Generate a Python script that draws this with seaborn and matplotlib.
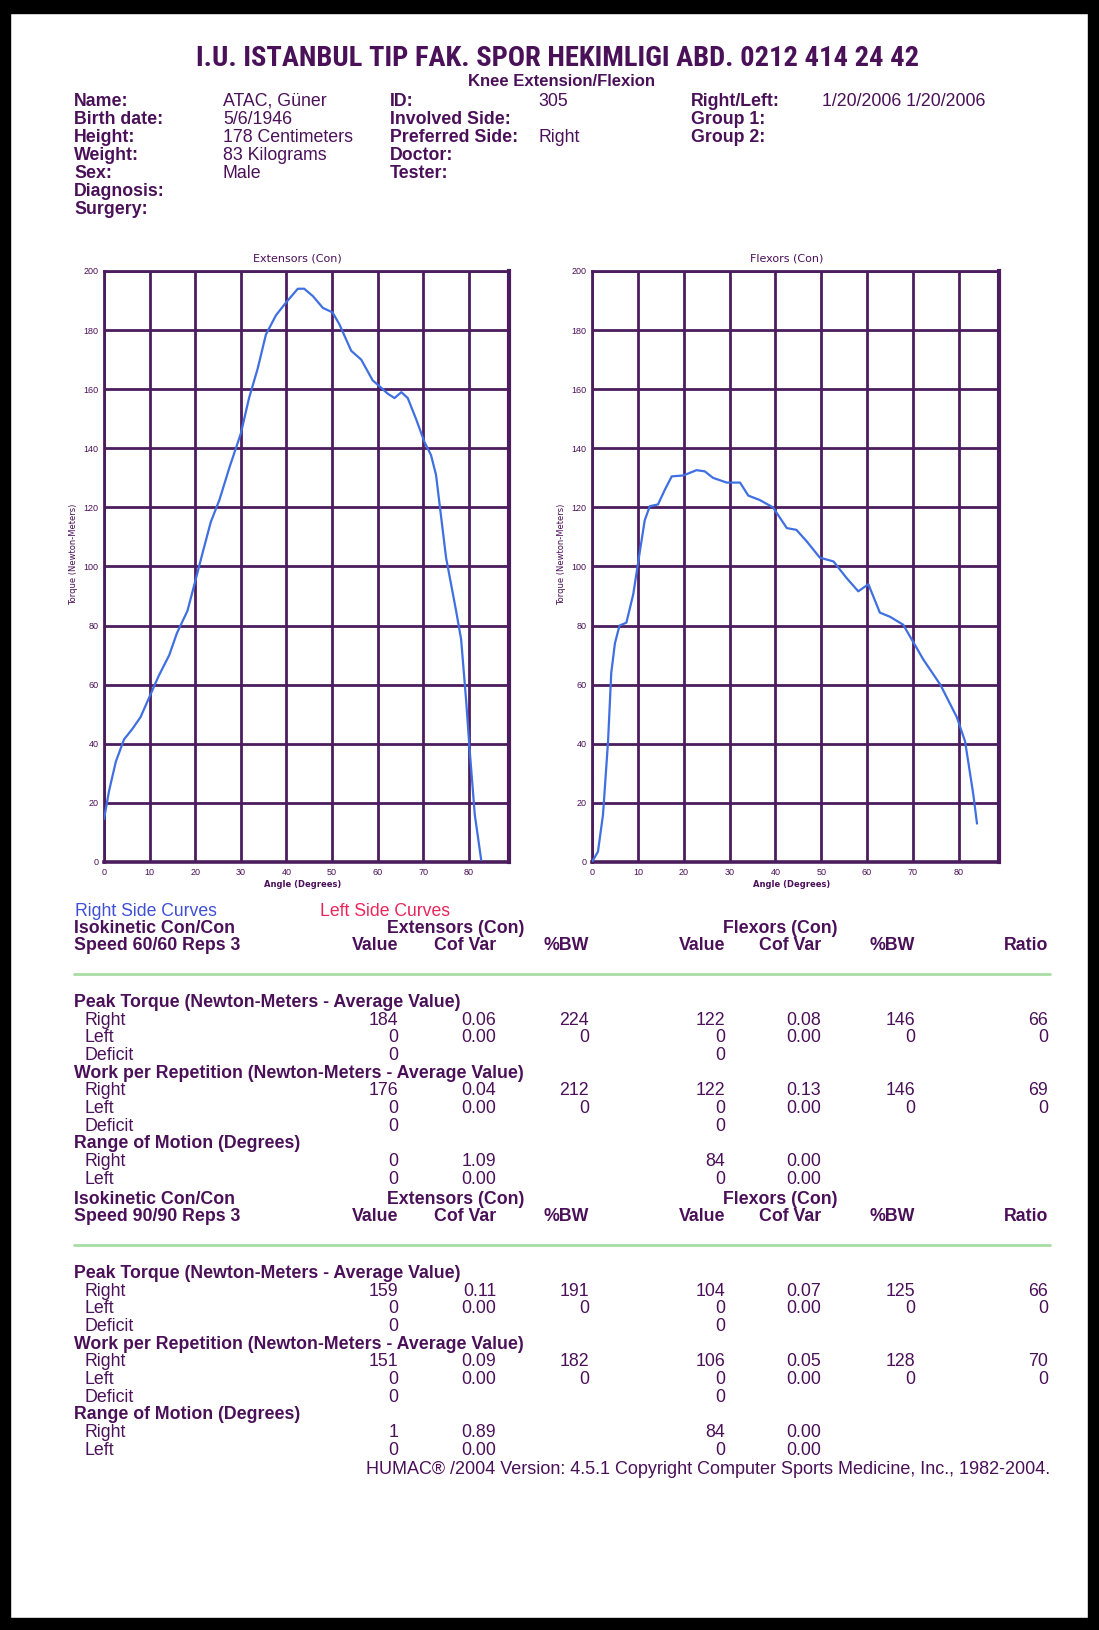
import os
import numpy as np
import pandas as pd
import matplotlib
matplotlib.use("Agg")
import matplotlib.pyplot as plt
import matplotlib.transforms as mtransforms
import seaborn as sns
from matplotlib import font_manager as fm
from matplotlib.ticker import MultipleLocator
from matplotlib.patches import Rectangle
from matplotlib.lines import Line2D

# ---------------- data ----------------
ext_angle = [0, 1.1, 2.6, 4.4, 6.2, 8, 10, 12, 14.3, 16, 18.3, 20, 21.6, 23.4, 25.3, 27.5, 30,
             31.8, 33.7, 35.5, 37.7, 40, 42.5, 43.9, 45.8, 48, 50.1, 51.6, 54.2, 56.4, 58.9,
             60.4, 62.2, 63.7, 65.2, 66.6, 68.4, 70.3, 71.7, 72.8, 75, 77.2, 78.3, 79.4, 80.1,
             81.3, 82.7]
ext_torque = [14.5, 24, 34, 41.5, 45, 49, 56, 63, 70, 77.5, 85, 95, 104.5, 115, 122.5, 133.5,
              145, 157, 167, 178.5, 185, 189.5, 194, 194, 191.5, 187.5, 186, 182, 173, 170,
              163, 161, 158.5, 157, 159, 157, 150, 142, 137.7, 131, 103, 85, 75.4, 54.7, 39.4,
              16, 0.7]
flex_angle = [0, 1.3, 2.4, 3.5, 4.2, 5, 6, 7.5, 9, 10.1, 11.5, 12.6, 14.4, 15.9, 17.4, 19.9,
              22.8, 24.6, 26.4, 29.4, 32.3, 34.1, 36.6, 39.5, 42.5, 44.6, 46.8, 49.7, 52.7,
              55.6, 58.1, 60.3, 62.8, 65, 67.9, 72.3, 76, 79.6, 81.4, 83.2, 84]
flex_torque = [0, 3.5, 16, 40.8, 64, 74, 80, 81, 90.6, 101.7, 115.6, 120.4, 121, 126, 130.5,
               130.8, 132.6, 132.2, 130, 128.4, 128.4, 124, 122.5, 120, 113, 112.4, 108.6, 103,
               101.7, 96, 91.6, 94, 84.4, 83, 80.3, 68.5, 60, 49, 40.8, 22.8, 13]

x_ticks = [0, 10, 20, 30, 40, 50, 60, 70, 80]
y_ticks = [0, 20, 40, 60, 80, 100, 120, 140, 160, 180, 200]

title = "I.U. ISTANBUL TIP FAK. SPOR HEKIMLIGI ABD. 0212 414 24 42"
subtitle = "Knee Extension/Flexion"
info_col1_labels = ["Name:", "Birth date:", "Height:", "Weight:", "Sex:", "Diagnosis:", "Surgery:"]
info_col1_values = ["ATAC, Güner", "5/6/1946", "178 Centimeters", "83 Kilograms", "Male", "", ""]
info_col2_labels = ["ID:", "Involved Side:", "Preferred Side:", "Doctor:", "Tester:"]
info_col2_values = ["305", "", "Right", "", ""]
info_col3_labels = ["Right/Left:", "Group 1:", "Group 2:"]
info_col3_values = ["1/20/2006 1/20/2006", "", ""]

col_headers = ["Value", "Cof Var", "%BW", "Value", "Cof Var", "%BW", "Ratio"]
speed_labels = ["Speed 60/60 Reps 3", "Speed 90/90 Reps 3"]
section_titles = ["Peak Torque (Newton-Meters - Average Value)",
                  "Work per Repetition (Newton-Meters - Average Value)",
                  "Range of Motion (Degrees)"]
block1 = [
    [("Right", ["184", "0.06", "224", "122", "0.08", "146", "66"]),
     ("Left", ["0", "0.00", "0", "0", "0.00", "0", "0"]),
     ("Deficit", ["0", "", "", "0", "", "", ""])],
    [("Right", ["176", "0.04", "212", "122", "0.13", "146", "69"]),
     ("Left", ["0", "0.00", "0", "0", "0.00", "0", "0"]),
     ("Deficit", ["0", "", "", "0", "", "", ""])],
    [("Right", ["0", "1.09", "", "84", "0.00", "", ""]),
     ("Left", ["0", "0.00", "", "0", "0.00", "", ""])],
]
block2 = [
    [("Right", ["159", "0.11", "191", "104", "0.07", "125", "66"]),
     ("Left", ["0", "0.00", "0", "0", "0.00", "0", "0"]),
     ("Deficit", ["0", "", "", "0", "", "", ""])],
    [("Right", ["151", "0.09", "182", "106", "0.05", "128", "70"]),
     ("Left", ["0", "0.00", "0", "0", "0.00", "0", "0"]),
     ("Deficit", ["0", "", "", "0", "", "", ""])],
    [("Right", ["1", "0.89", "", "84", "0.00", "", ""]),
     ("Left", ["0", "0.00", "", "0", "0.00", "", ""])],
]
footer = "HUMAC\u00ae /2004 Version: 4.5.1 Copyright Computer Sports Medicine, Inc., 1982-2004."

# ---------------- fonts ----------------
sns.set_style("white")
plt.rcParams["font.family"] = ["Liberation Sans", "DejaVu Sans"]

all_files = sorted({f.fname for f in fm.fontManager.ttflist})
COND_BOLD = None
for f in all_files:
    if os.path.basename(f).lower() == "robotocondensed-bold.ttf":
        COND_BOLD = f
        break

W, H = 1099, 1630
TXT = "#4a1058"
GRID = "#4b1d5e"
BLUE = "#3f6fe0"

fig = plt.figure(figsize=(W / 100, H / 100), dpi=100)
fig.patch.set_facecolor("white")


def T(x, y, s, bold=False, size=12.8, **kw):
    kw.setdefault("color", TXT)
    kw.setdefault("va", "center")
    fp = fm.FontProperties(family=["Liberation Sans", "DejaVu Sans"], size=size,
                           weight="bold" if bold else "normal")
    return fig.text(x / W, 1 - y / H, s, fontproperties=fp, **kw)


# border frame
for (x0, y0, w, h) in [(0, 0, 10, H), (0, 0, W, 13), (W - 11, 0, 11, H), (0, H - 12, W, 12)]:
    fig.add_artist(Rectangle((x0 / W, 1 - (y0 + h) / H), w / W, h / H,
                             transform=fig.transFigure, color="black", zorder=10))

# header
if COND_BOLD:
    fig.text(557 / W, 1 - 59 / H, title,
             fontproperties=fm.FontProperties(fname=COND_BOLD, size=20.5),
             color=TXT, ha="center", va="center")
else:
    T(557, 59, title, bold=True, size=17.5, ha="center")
T(561, 82, subtitle, bold=True, size=12, ha="center")
row_y = [101, 119, 137, 155, 173, 191, 210]
for i, (lab, val) in enumerate(zip(info_col1_labels, info_col1_values)):
    T(74, row_y[i], lab, bold=True, size=12.8)
    T(223, row_y[i], val, size=12.8)
for i, (lab, val) in enumerate(zip(info_col2_labels, info_col2_values)):
    T(390, row_y[i], lab, bold=True, size=12.8)
    T(538, row_y[i], val, size=12.8)
for i, (lab, val) in enumerate(zip(info_col3_labels, info_col3_values)):
    T(691, row_y[i], lab, bold=True, size=12.8)
    T(822, row_y[i], val, size=12.8)

# ---------------- charts ----------------
ax_specs = [(104, 509, "Extensors (Con)", ext_angle, ext_torque),
            (592, 999, "Flexors (Con)", flex_angle, flex_torque)]
top, bot = 271, 862
for (x0, x1, ttl, xa, ya) in ax_specs:
    ax = fig.add_axes([x0 / W, 1 - bot / H, (x1 - x0) / W, (bot - top) / H])
    df = pd.DataFrame({"Angle": xa, "Torque": ya})
    sns.lineplot(data=df, x="Angle", y="Torque", ax=ax, sort=False, estimator=None,
                 color=BLUE, lw=1.6, zorder=5)
    ax.set_xlim(0, 88.8)
    ax.set_ylim(0, 200)
    ax.set_xticks(x_ticks)
    ax.set_yticks(y_ticks)
    ax.xaxis.set_minor_locator(MultipleLocator(2))
    ax.yaxis.set_minor_locator(MultipleLocator(5))
    ax.grid(True, which="major", color=GRID, lw=2.0)
    ax.tick_params(which="major", direction="out", length=3, width=1.2, color=GRID,
                   labelsize=6.5, labelcolor=TXT, pad=1)
    ax.tick_params(which="minor", direction="in", length=5, width=1.5, color=GRID)
    for sp in ax.spines.values():
        sp.set_color(GRID)
        sp.set_linewidth(2.0)
    ax.spines["right"].set_linewidth(3.0)
    ax.spines["bottom"].set_linewidth(2.6)
    tr = mtransforms.blended_transform_factory(ax.transData, ax.transAxes)
    ax.text(42.5, 1.012, ttl, transform=tr, fontsize=8, color=TXT, ha="center", va="bottom",
            family="DejaVu Sans")
    ax.text(43.5, -0.030, "Angle (Degrees)", transform=tr, fontsize=6, color=TXT, ha="center",
            va="top", fontweight="bold", family="DejaVu Sans")
    ax.set_xlabel("")
    ax.set_ylabel("Torque (Newton-Meters)", fontsize=6, color=TXT, family="DejaVu Sans")
    ax.yaxis.set_label_coords(-26 / (x1 - x0), 0.52)

# ---------------- table ----------------
T(75, 911, "Right Side Curves", color="#3f4fd6", size=12.7)
T(320, 911, "Left Side Curves", color="#e8265c", size=12.7)

col_right = [398, 496, 589, 725, 821, 915, 1048]
DY = 17.65


def draw_block(y0, speed, block):
    T(74, y0, "Isokinetic Con/Con", bold=True)
    T(456, y0, "Extensors (Con)", bold=True, ha="center")
    T(780, y0, "Flexors (Con)", bold=True, ha="center")
    y = y0 + DY
    T(74, y, speed, bold=True)
    for cx, h in zip(col_right, col_headers):
        T(cx, y, h, bold=True, ha="right")
    fig.add_artist(Line2D([74 / W, 1050 / W], [1 - (y + 28) / H] * 2, color="#a8dca4",
                          lw=2.0, transform=fig.transFigure))
    y = y + 57
    for sec, rows in zip(section_titles, block):
        T(74, y, sec, bold=True)
        for lab, vals in rows:
            y += DY
            T(85, y, lab)
            for cx, v in zip(col_right, vals):
                if v:
                    T(cx, y, v, ha="right")
        y += DY
    return y


draw_block(928, speed_labels[0], block1)
draw_block(1199, speed_labels[1], block2)
T(1050, 1470, footer, ha="right", size=13)

fig.savefig("out.png", dpi=100, facecolor="white")
